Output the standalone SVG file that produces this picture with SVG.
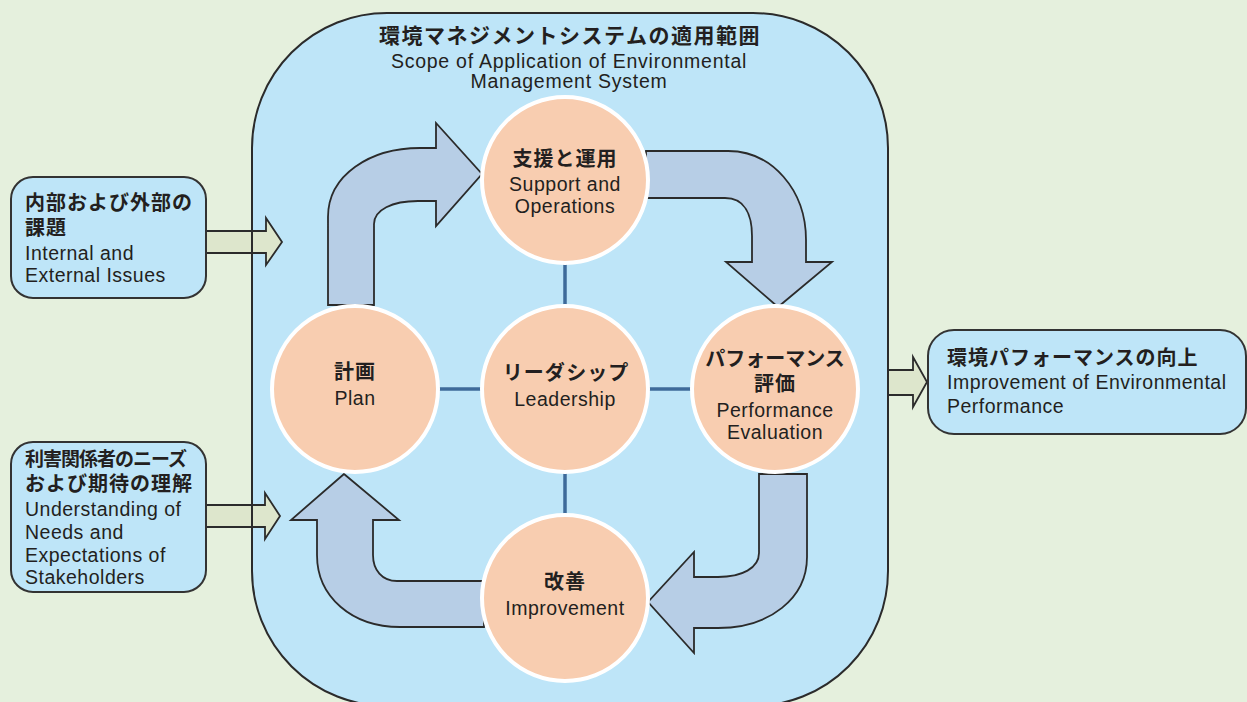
<svg xmlns="http://www.w3.org/2000/svg" width="1247" height="702" viewBox="0 0 1247 702">
<style>
.jp{font-family:"Noto Sans CJK JP","Noto Sans",sans-serif;font-weight:bold;font-size:20px;fill:#231f20;letter-spacing:1px}
.en{font-family:"Liberation Sans",Arial,sans-serif;font-size:19.5px;fill:#231f20;letter-spacing:0.5px}
.c{text-anchor:middle}
.box{fill:#bee5f8;stroke:#333;stroke-width:2}
.circ{fill:#f8cdb0;stroke:#fff;stroke-width:4}
.bigarrow{fill:#b7cee6;stroke:#2b2b2b;stroke-width:1.8;stroke-linejoin:miter}
.sidearrow{fill:#dde6cc;stroke:#2b2b2b;stroke-width:1.8}
.link{stroke:#3e6a9a;stroke-width:3.5}
</style>
<rect x="0" y="0" width="1247" height="702" fill="#e5f0dd"/>
<g id="scope">
<rect x="252" y="13" width="636" height="693" rx="135" ry="135" fill="#bee5f8"/>
</g>
<g id="connectors">
<path class="sidearrow" d="M206 231 L266 231 L266 218 L282 242 L266 265 L266 253 L206 253 Z"/>
<path class="sidearrow" d="M206 505 L265 505 L265 493 L280 516 L265 539 L265 527 L206 527 Z"/>
<path class="sidearrow" d="M888 370 L913 370 L913 357 L927 382 L913 407 L913 395 L888 395 Z"/>
<rect x="252" y="13" width="636" height="693" rx="135" ry="135" fill="none" stroke="#2b2b2b" stroke-width="2"/>
<path class="bigarrow" d="M328 305 L328 217 C328 175 370 148 420 148 L436 148 L436 123 L482 174 L436 226 L436 201 L418 201 C392 201 374 210 374 224 L374 305 Z"/>
<path class="bigarrow" d="M646 151 L728 151 C772 151 806 190 806 240 L806 262 L832 262 L778 307 L726 262 L752 262 L752 236 C752 215 745 198 725 198 L646 198 Z"/>
<path class="bigarrow" d="M759 474 L807 474 L807 557 C807 598 770 628 718 628 L694 628 L694 653 L648 602 L694 552 L694 577 L718 577 C742 577 759 568 759 553 Z"/>
<path class="bigarrow" d="M484 581 L397 581 C382 581 373 570 373 555 L373 520 L399 520 L344 474 L291 520 L317 520 L317 555 C317 597 352 627 400 627 L484 627 Z"/>
<line class="link" x1="565" y1="260" x2="565" y2="310"/>
<line class="link" x1="565" y1="468" x2="565" y2="518"/>
<line class="link" x1="435" y1="389" x2="485" y2="389"/>
<line class="link" x1="645" y1="389" x2="695" y2="389"/>
</g>
<g id="scope-label">
<text class="jp c" x="570" y="43" style="font-size:21px;letter-spacing:1.5px">環境マネジメントシステムの適用範囲</text>
<text class="en c" x="569" y="68" style="letter-spacing:0.75px">Scope of Application of Environmental</text>
<text class="en c" x="569" y="88" style="letter-spacing:0.75px">Management System</text>
</g>
<g id="internal-external">
<rect class="box" x="11" y="177" width="195" height="121" rx="22"/>
<text class="jp" x="25" y="210">内部および外部の</text>
<text class="jp" x="25" y="235">課題</text>
<text class="en" x="25" y="260">Internal and</text>
<text class="en" x="25" y="282">External Issues</text>
</g>
<g id="stakeholders">
<rect class="box" x="11" y="442" width="195" height="150" rx="22"/>
<text class="jp" x="25" y="466" style="font-size:19px;letter-spacing:-1px">利害関係者のニーズ</text>
<text class="jp" x="25" y="491">および期待の理解</text>
<text class="en" x="25" y="516">Understanding of</text>
<text class="en" x="25" y="539">Needs and</text>
<text class="en" x="25" y="562">Expectations of</text>
<text class="en" x="25" y="584">Stakeholders</text>
</g>
<g id="improvement-env">
<rect class="box" x="928" y="330" width="318" height="104" rx="26"/>
<text class="jp" x="947" y="365">環境パフォーマンスの向上</text>
<text class="en" x="947" y="389">Improvement of Environmental</text>
<text class="en" x="947" y="413">Performance</text>
</g>
<g id="support">
<circle class="circ" cx="565" cy="180" r="83"/>
<text class="jp c" x="565" y="166">支援と運用</text>
<text class="en c" x="565" y="191">Support and</text>
<text class="en c" x="565" y="213">Operations</text>
</g>
<g id="plan">
<circle class="circ" cx="355" cy="389" r="83"/>
<text class="jp c" x="355" y="379">計画</text>
<text class="en c" x="355" y="405">Plan</text>
</g>
<g id="leadership">
<circle class="circ" cx="565" cy="389" r="83"/>
<text class="jp c" x="566" y="380">リーダシップ</text>
<text class="en c" x="565" y="406">Leadership</text>
</g>
<g id="performance">
<circle class="circ" cx="775" cy="389" r="83"/>
<text class="jp c" x="775" y="366" style="letter-spacing:0px">パフォーマンス</text>
<text class="jp c" x="775" y="391">評価</text>
<text class="en c" x="775" y="417">Performance</text>
<text class="en c" x="775" y="439">Evaluation</text>
</g>
<g id="improvement">
<circle class="circ" cx="565" cy="598" r="83"/>
<text class="jp c" x="565" y="589">改善</text>
<text class="en c" x="565" y="615">Improvement</text>
</g>
</svg>
